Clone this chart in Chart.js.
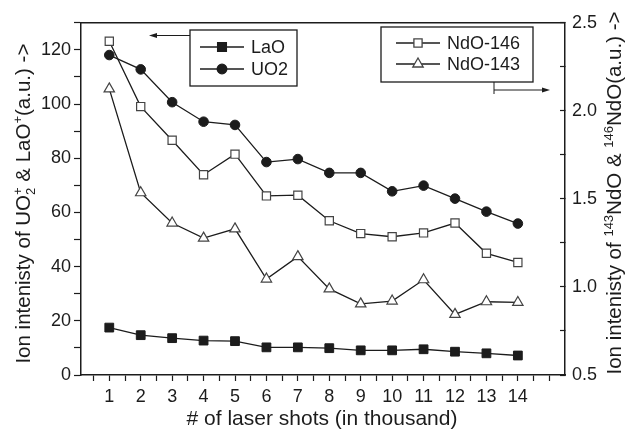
<!DOCTYPE html>
<html>
<head>
  <title>Ion intensity vs laser shots</title>
  <style>
    html, body { margin: 0; padding: 0; background: #fff; }
    #wrap { width: 625px; height: 432px; }
  </style>
</head>
<body>
  <div id="wrap">
    <canvas id="canvas" width="625" height="432"></canvas>
  </div>
  <script src="https://cdn.jsdelivr.net/npm/chart.js"></script>
  <script>
    // values
    var shots = [1, 2, 3, 4, 5, 6, 7, 8, 9, 10, 11, 12, 13, 14];
    var lao = [17.5, 14.7, 13.6, 12.7, 12.5, 10.2, 10.2, 9.9, 9.1, 9.1, 9.5, 8.6, 8.0, 7.2];
    var uo2 = [118.1, 112.8, 100.7, 93.5, 92.3, 78.6, 79.7, 74.6, 74.6, 67.8, 69.9, 65.1, 60.3, 55.9];
    var ndo146 = [2.395, 2.024, 1.833, 1.637, 1.754, 1.517, 1.521, 1.376, 1.303, 1.285, 1.307, 1.363, 1.191, 1.139];
    var ndo143 = [2.125, 1.535, 1.363, 1.277, 1.330, 1.045, 1.172, 0.989, 0.904, 0.920, 1.041, 0.844, 0.916, 0.912];

    var ink = '#1c1c1c';
    var font = "'Liberation Sans', Arial, sans-serif";

    function pts(ys) {
      return shots.map(function(x, i) { return {x: x, y: ys[i]}; });
    }

    function stepTicks(min, max, step) {
      var out = [];
      for (var v = min; v <= max + 1e-9; v += step) out.push({value: Math.round(v * 1000) / 1000});
      return out;
    }

    // draws text with sub/superscripts, centred on (cx, cy)
    function richText(ctx, segs, cx, cy, size, rot) {
      var small = Math.round(size * 0.62);
      ctx.save();
      ctx.translate(cx, cy);
      ctx.rotate(rot);
      ctx.fillStyle = ink;
      ctx.textBaseline = 'alphabetic';
      ctx.textAlign = 'left';
      var total = 0;
      segs.forEach(function(s) {
        ctx.font = (s[1] === 'n' ? size : small) + 'px ' + font;
        s.w = ctx.measureText(s[0]).width;
        total += s.w;
      });
      var x = -total / 2, by = size * 0.36;
      segs.forEach(function(s) {
        ctx.font = (s[1] === 'n' ? size : small) + 'px ' + font;
        var dy = 0;
        if (s[1] === 'sup') dy = -size * 0.42;
        if (s[1] === 'sub') dy = size * 0.22;
        if (s[1] === 'subsup') {
          ctx.fillText(s[0].charAt(0), x, by + size * 0.22);
          ctx.fillText(s[0].charAt(1), x, by - size * 0.42);
          var w = Math.max(ctx.measureText(s[0].charAt(0)).width, ctx.measureText(s[0].charAt(1)).width);
          x += w;
          return;
        }
        ctx.fillText(s[0], x, by + dy);
        x += s.w;
      });
      ctx.restore();
    }

    function arrowHead(ctx, x, y, dir) {
      ctx.beginPath();
      ctx.moveTo(x, y);
      ctx.lineTo(x - dir * 8, y - 2.5);
      ctx.lineTo(x - dir * 8, y + 2.5);
      ctx.closePath();
      ctx.fill();
    }

    function legendBox(ctx, x, y, w, h, items) {
      ctx.save();
      ctx.strokeStyle = ink;
      ctx.lineWidth = 1.3;
      ctx.strokeRect(x, y, w, h);
      items.forEach(function(it) {
        ctx.strokeStyle = ink;
        ctx.lineWidth = 1.3;
        ctx.beginPath();
        ctx.moveTo(it.x - 22, it.y);
        ctx.lineTo(it.x + 22, it.y);
        ctx.stroke();
        ctx.fillStyle = it.fill;
        ctx.strokeStyle = it.stroke;
        Chart.helpers.drawPoint(ctx, {pointStyle: it.style, radius: it.r, rotation: 0, borderWidth: 1.2}, it.x, it.y);
        ctx.fillStyle = ink;
        ctx.font = '18px ' + font;
        ctx.textBaseline = 'middle';
        ctx.fillText(it.label, it.x + 29, it.y + 1);
      });
      ctx.restore();
    }

    var decor = {
      id: 'decor',
      afterDraw: function(chart) {
        var ctx = chart.ctx, a = chart.chartArea;
        ctx.save();
        // top frame line
        ctx.strokeStyle = ink;
        ctx.lineWidth = 1.5;
        ctx.beginPath();
        ctx.moveTo(a.left, a.top);
        ctx.lineTo(a.right, a.top);
        ctx.stroke();

        legendBox(ctx, 190, 30, 107, 56, [
          {label: 'LaO', x: 222, y: 47, style: 'rect', r: 6.2, fill: ink, stroke: ink},
          {label: 'UO2', x: 222, y: 69, style: 'circle', r: 4.8, fill: ink, stroke: ink}
        ]);
        legendBox(ctx, 381, 27, 152, 55, [
          {label: 'NdO-146', x: 418, y: 43, style: 'rect', r: 5.8, fill: '#fff', stroke: '#444'},
          {label: 'NdO-143', x: 418, y: 64, style: 'triangle', r: 6, fill: '#fff', stroke: '#444'}
        ]);

        // arrows pointing to the axes
        ctx.strokeStyle = ink;
        ctx.fillStyle = ink;
        ctx.lineWidth = 1;
        ctx.beginPath();
        ctx.moveTo(190, 35.5);
        ctx.lineTo(152, 35.5);
        ctx.moveTo(494, 82);
        ctx.lineTo(494, 94);
        ctx.moveTo(494, 90);
        ctx.lineTo(546, 90);
        ctx.stroke();
        arrowHead(ctx, 149, 35.5, -1);
        arrowHead(ctx, 550, 90, 1);

        // axis titles
        ctx.fillStyle = ink;
        ctx.font = '21px ' + font;
        ctx.textAlign = 'center';
        ctx.textBaseline = 'middle';
        ctx.fillText('# of laser shots (in thousand)', 322, 419);
        ctx.restore();

        richText(ctx, [
          ['Ion intenisty of UO', 'n'], ['2+', 'subsup'], [' & LaO', 'n'], ['+', 'sup'], ['(a.u.) ->', 'n']
        ], 23, 200, 20.5, -Math.PI / 2);
        richText(ctx, [
          ['Ion intenisty of ', 'n'], ['143', 'sup'], ['NdO & ', 'n'], ['146', 'sup'], ['NdO(a.u.) ->', 'n']
        ], 614, 193, 20.5, -Math.PI / 2);
      }
    };

    var tickFont = {family: font, size: 18};

    var config = {
      type: 'line',
      data: {
        datasets: [
          {label: 'LaO', data: pts(lao), yAxisID: 'y', borderColor: ink, borderWidth: 1.3,
           pointStyle: 'rect', pointRadius: 6.2, pointBackgroundColor: ink, pointBorderColor: ink, pointBorderWidth: 1},
          {label: 'UO2', data: pts(uo2), yAxisID: 'y', borderColor: ink, borderWidth: 1.3,
           pointStyle: 'circle', pointRadius: 4.8, pointBackgroundColor: ink, pointBorderColor: ink, pointBorderWidth: 1},
          {label: 'NdO-146', data: pts(ndo146), yAxisID: 'y2', borderColor: ink, borderWidth: 1.3,
           pointStyle: 'rect', pointRadius: 5.8, pointBackgroundColor: '#fff', pointBorderColor: '#444', pointBorderWidth: 1.2},
          {label: 'NdO-143', data: pts(ndo143), yAxisID: 'y2', borderColor: ink, borderWidth: 1.3,
           pointStyle: 'triangle', pointRadius: 6, pointBackgroundColor: '#fff', pointBorderColor: '#444', pointBorderWidth: 1.2}
        ]
      },
      options: {
        responsive: false,
        animation: false,
        layout: {padding: {top: 19, left: 0, right: 0, bottom: 0}},
        plugins: {legend: {display: false}, tooltip: {enabled: false}},
        scales: {
          x: {
            type: 'linear',
            min: 0.1,
            max: 15.5,
            afterBuildTicks: function(s) { s.ticks = stepTicks(0.5, 15, 0.5); },
            afterFit: function(s) { s.height = 57; },
            ticks: {
              color: ink, font: tickFont, padding: 5, autoSkip: false, maxRotation: 0,
              callback: function(v) { return (v % 1 === 0 && v <= 14) ? String(v) : ''; }
            },
            grid: {drawOnChartArea: false, tickLength: 6, tickColor: ink, tickWidth: 1.2},
            border: {color: ink, width: 1.5}
          },
          y: {
            position: 'left',
            min: 0,
            max: 130,
            afterBuildTicks: function(s) { s.ticks = stepTicks(0, 130, 10); },
            afterFit: function(s) { s.width = 81; },
            ticks: {
              color: ink, font: tickFont, padding: 3, autoSkip: false,
              callback: function(v) { return (v % 20 === 0 && v <= 120) ? String(v) : ''; }
            },
            grid: {drawOnChartArea: false, tickLength: 7, tickColor: ink, tickWidth: 1.2},
            border: {color: ink, width: 1.5}
          },
          y2: {
            position: 'right',
            min: 0.5,
            max: 2.5,
            afterBuildTicks: function(s) { s.ticks = stepTicks(0.5, 2.5, 0.25); },
            afterFit: function(s) { s.width = 60; },
            ticks: {
              color: ink, font: tickFont, padding: 12, autoSkip: false,
              callback: function(v) { return (Math.abs(v * 2 - Math.round(v * 2)) < 1e-6) ? v.toFixed(1) : ''; }
            },
            grid: {drawOnChartArea: false, tickLength: -5, tickColor: ink, tickWidth: 1.2},
            border: {color: ink, width: 1.5}
          }
        }
      },
      plugins: [decor]
    };

    window.onload = function() {
      var ctx = document.getElementById('canvas').getContext('2d');
      window.myLine = new Chart(ctx, config);
    };
  </script>
</body>
</html>
